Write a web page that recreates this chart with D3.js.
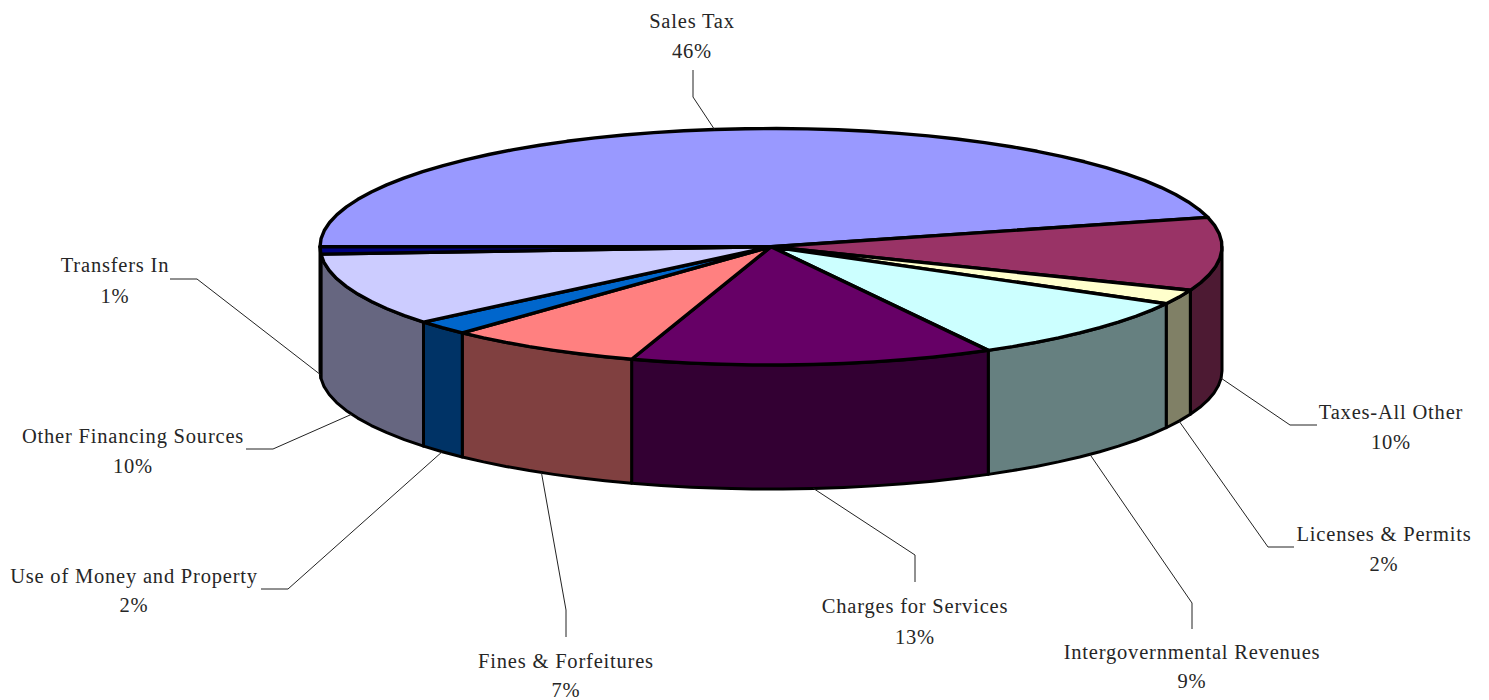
<!DOCTYPE html>
<html>
<head>
<meta charset="utf-8">
<script src="https://cdn.jsdelivr.net/npm/d3@7/dist/d3.min.js"></script>
<style>
  html, body { margin: 0; padding: 0; background: #fff; }
  svg { display: block; }
  text { font-family: "Liberation Serif", serif; font-size: 20.5px; fill: #262626; text-anchor: middle; letter-spacing: 0.8px; }
</style>
</head>
<body>
<svg id="chart" width="1489" height="700"></svg>
<script>
// Revenue shares, clockwise from the nine o'clock position.
const categories = ["Sales Tax", "Taxes-All Other", "Licenses & Permits", "Intergovernmental Revenues",
  "Charges for Services", "Fines & Forfeitures", "Use of Money and Property", "Other Financing Sources", "Transfers In"];
const shares = [46, 10, 2, 9, 13, 7, 2, 10, 1];
const topColors = ["#9999FF", "#993366", "#FFFFCC", "#CCFFFF", "#660066", "#FF8080", "#0066CC", "#CCCCFF", "#000080"];
const wallColors = ["#666680", "#4D1A33", "#808066", "#668080", "#330033", "#804040", "#003366", "#666680", "#000040"];

// Leader elbow and end, then label centre and the two text baselines.
const labelLayout = [
  { elbow: [693, 97],   end: [693, 70],   cx: 692,  y1: 28,  y2: 58 },
  { elbow: [1290, 425], end: [1317, 425], cx: 1391, y1: 419, y2: 449 },
  { elbow: [1268, 547], end: [1294, 547], cx: 1384, y1: 541, y2: 571 },
  { elbow: [1192, 603], end: [1192, 629], cx: 1192, y1: 659, y2: 688 },
  { elbow: [915, 555],  end: [915, 582],  cx: 915,  y1: 613, y2: 644 },
  { elbow: [566, 610],  end: [566, 637],  cx: 566,  y1: 668, y2: 697 },
  { elbow: [288, 589],  end: [261, 589],  cx: 134,  y1: 583, y2: 612 },
  { elbow: [273, 449],  end: [246, 449],  cx: 133,  y1: 443, y2: 473 },
  { elbow: [197, 279],  end: [170, 279],  cx: 115,  y1: 272, y2: 303 }
];

const svg = d3.select("#chart");

// The disc is a unit circle squashed into an ellipse; the wall is a vertical offset.
const px = d3.scaleLinear().domain([-1, 1]).range([320, 1222]);
const py = d3.scaleLinear().domain([-1, 1]).range([128.5, 365]);
const depth = 124;
const facet = 4 * Math.PI / 180;

const pie = d3.pie().sort(null).value(d => d)
  .startAngle(-Math.PI / 2).endAngle(3 * Math.PI / 2);
const arcs = pie(shares);

const rimPoint = (a, drop = 0) => [px(Math.sin(a)), py(-Math.cos(a)) + drop];

// Points along the rim, faceted like the low-resolution outline of the disc.
function rim(a0, a1, drop = 0) {
  const n = Math.max(1, Math.ceil(Math.abs(a1 - a0) / facet));
  return d3.range(n + 1).map(i => rimPoint(a0 + (a1 - a0) * i / n, drop));
}

const line = d3.line();

// Outer walls: only the part of each slice on the near half of the rim shows.
const wallSlices = arcs.map((d, i) => {
  const a0 = Math.max(d.startAngle, Math.PI / 2);
  const a1 = Math.min(d.endAngle, 3 * Math.PI / 2);
  return { a0, a1, i };
}).filter(d => d.a1 > d.a0);

svg.append("g").selectAll("path").data(wallSlices).join("path")
  .attr("d", d => line(rim(d.a0, d.a1).concat(rim(d.a1, d.a0, depth))) + "Z")
  .attr("fill", d => wallColors[d.i])
  .attr("stroke", "#000")
  .attr("stroke-width", 3)
  .attr("stroke-linejoin", "round");

// Top faces.
const centre = [px(0), py(0)];
svg.append("g").selectAll("path").data(arcs).join("path")
  .attr("d", d => line([centre].concat(rim(d.startAngle, d.endAngle))) + "Z")
  .attr("fill", (d, i) => topColors[i])
  .attr("stroke", "#000")
  .attr("stroke-width", 3.4)
  .attr("stroke-linejoin", "round");

// Leader lines start on the rim at each slice's middle angle.
svg.append("g").selectAll("path").data(arcs).join("path")
  .attr("d", (d, i) => {
    const mid = (d.startAngle + d.endAngle) / 2;
    const cosMid = Math.cos(mid);
    const start = rimPoint(mid, cosMid > 0 ? 0 : depth);
    return line([start, labelLayout[i].elbow, labelLayout[i].end]);
  })
  .attr("fill", "none")
  .attr("stroke", "#222")
  .attr("stroke-width", 1);

// Two-line labels: category name and percentage.
const labels = svg.append("g").selectAll("g").data(arcs).join("g");
labels.append("text")
  .attr("x", (d, i) => labelLayout[i].cx)
  .attr("y", (d, i) => labelLayout[i].y1)
  .text((d, i) => categories[i]);
labels.append("text")
  .attr("x", (d, i) => labelLayout[i].cx)
  .attr("y", (d, i) => labelLayout[i].y2)
  .text(d => d.data + "%");
</script>
</body>
</html>
